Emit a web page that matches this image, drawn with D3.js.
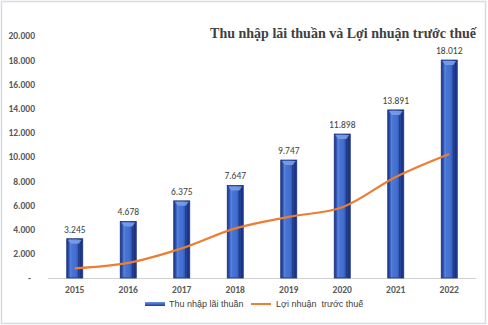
<!DOCTYPE html>
<html><head><meta charset="utf-8">
<script src="https://cdn.jsdelivr.net/npm/d3@7/dist/d3.min.js"></script>
<style>html,body{margin:0;padding:0;background:#fff;}svg{display:block;}</style>
</head><body>
<script>
const years = ["2015","2016","2017","2018","2019","2020","2021","2022"];
const thuNhap = [3245, 4678, 6375, 7647, 9747, 11898, 13891, 18012];
const loiNhuan = [800, 1250, 2450, 4100, 5050, 5850, 8350, 10250];
const yTicks = [0, 2000, 4000, 6000, 8000, 10000, 12000, 14000, 16000, 18000, 20000];
const titleText = "Thu nhập lãi thuần và Lợi nhuận trước thuế";
const seriesNames = ["Thu nhập lãi thuần", "Lợi nhuận  trước thuế"];

const W = 488, H = 325;
const svg = d3.select("body").append("svg").attr("width", W).attr("height", H);

const defs = svg.append("defs");
const g1 = defs.append("linearGradient").attr("id","barGrad").attr("x1","0").attr("x2","1").attr("y1","0").attr("y2","0");
[["0%","#1c3585"],["12%","#2c4fae"],["22%","#4a78d6"],["55%","#4370d0"],["78%","#2c50ac"],["88%","#1a2f78"],["100%","#22409a"]]
  .forEach(([o,c]) => g1.append("stop").attr("offset",o).attr("stop-color",c));
const g2 = defs.append("linearGradient").attr("id","legGrad").attr("x1","0").attr("x2","0").attr("y1","0").attr("y2","1");
[["0%","#6f95e0"],["50%","#3f6bcc"],["100%","#1f3a8a"]].forEach(([o,c]) => g2.append("stop").attr("offset",o).attr("stop-color",c));

// border
svg.append("rect").attr("x",1.5).attr("y",1.5).attr("width",W-4).attr("height",H-3)
  .attr("fill","none").attr("stroke","#d6dbe4").attr("stroke-width",1.5);

const xc = d3.scaleBand().domain(years).range([48, 476]);
const y = d3.scaleLinear().domain([0, 20000]).range([278, 36]);

// y labels
const fmt = v => v === 0 ? "-" : d3.format(",")(v).replace(/,/g, ".");
svg.append("g").selectAll("text").data(yTicks).join("text")
  .attr("x", d => d === 0 ? 31 : 35).attr("y", d => y(d)).attr("dy","0.35em")
  .attr("text-anchor","end").attr("font-family","Carlito, 'Liberation Sans', Arial, sans-serif")
  .attr("font-size", 9.5).attr("font-weight","bold").attr("fill","#595959")
  .text(fmt);

// x axis line
svg.append("line").attr("x1",48).attr("x2",476).attr("y1",278.5).attr("y2",278.5)
  .attr("stroke","#d0d0d0").attr("stroke-width",1);

// x labels
svg.append("g").selectAll("text").data(years).join("text")
  .attr("x", d => xc(d) + xc.bandwidth()/2).attr("y", 293)
  .attr("text-anchor","middle").attr("font-family","Carlito, 'Liberation Sans', Arial, sans-serif")
  .attr("font-size", 9.5).attr("font-weight","bold").attr("fill","#595959")
  .text(d => d);

// bars
const bw = 16;
const bars = svg.append("g").selectAll("g").data(years.map((yr,i)=>({yr, v: thuNhap[i]}))).join("g");
bars.append("rect")
  .attr("x", d => xc(d.yr) + xc.bandwidth()/2 - bw/2).attr("y", d => y(d.v))
  .attr("width", bw).attr("height", d => 278 - y(d.v))
  .attr("fill","url(#barGrad)").attr("stroke","#1a2f78").attr("stroke-width",0.8);
// top bevel
bars.append("path")
  .attr("d", d => {
    const cx = xc(d.yr) + xc.bandwidth()/2, t = y(d.v);
    return `M${cx-bw/2+1},${t+1}L${cx+bw/2-1},${t+1}L${cx+bw/2-4},${t+5}L${cx-bw/2+4},${t+5}Z`;
  }).attr("fill","#7fa0e6").attr("opacity",0.85);
bars.append("path")
  .attr("d", d => {
    const cx = xc(d.yr) + xc.bandwidth()/2, t = y(d.v);
    return `M${cx-bw/2+4},${t+5}L${cx-bw/2+4},${277}`;
  }).attr("stroke","#6b8fe0").attr("stroke-width",1).attr("opacity",0.6);
bars.append("path")
  .attr("d", d => {
    const cx = xc(d.yr) + xc.bandwidth()/2, t = y(d.v);
    return `M${cx+bw/2-4},${t+5}L${cx+bw/2-4},${277}`;
  }).attr("stroke","#152a6e").attr("stroke-width",1).attr("opacity",0.7);

// value labels
bars.append("text")
  .attr("x", d => xc(d.yr) + xc.bandwidth()/2).attr("y", d => y(d.v) - 6)
  .attr("text-anchor","middle").attr("font-family","Carlito, 'Liberation Sans', Arial, sans-serif")
  .attr("font-size", 9.5).attr("fill","#404040")
  .text(d => fmt(d.v));

// line
const line = d3.line().x((d,i) => xc(years[i]) + xc.bandwidth()/2).y(d => y(d)).curve(d3.curveCatmullRom);
svg.append("path").datum(loiNhuan).attr("d", line)
  .attr("fill","none").attr("stroke","#ed7d31").attr("stroke-width",2.2);

// title
svg.append("text").attr("x", 476).attr("y", 38).attr("text-anchor","end")
  .attr("font-family","'Liberation Serif','Times New Roman',serif").attr("font-weight","bold")
  .attr("font-size", 14).attr("fill","#404040").text(titleText);

// legend
svg.append("rect").attr("x",145).attr("y",302).attr("width",20).attr("height",4).attr("fill","url(#legGrad)");
svg.append("text").attr("x",169).attr("y",307).attr("font-family","'Liberation Sans',Arial,sans-serif")
  .attr("font-size",9).attr("fill","#404040").text(seriesNames[0]);
svg.append("line").attr("x1",251).attr("x2",271).attr("y1",304).attr("y2",304).attr("stroke","#ed7d31").attr("stroke-width",2);
svg.append("text").attr("x",276).attr("y",307).attr("font-family","'Liberation Sans',Arial,sans-serif")
  .attr("font-size",9).attr("fill","#404040").attr("xml:space","preserve").style("white-space","pre").text(seriesNames[1]);
</script>
</body></html>
